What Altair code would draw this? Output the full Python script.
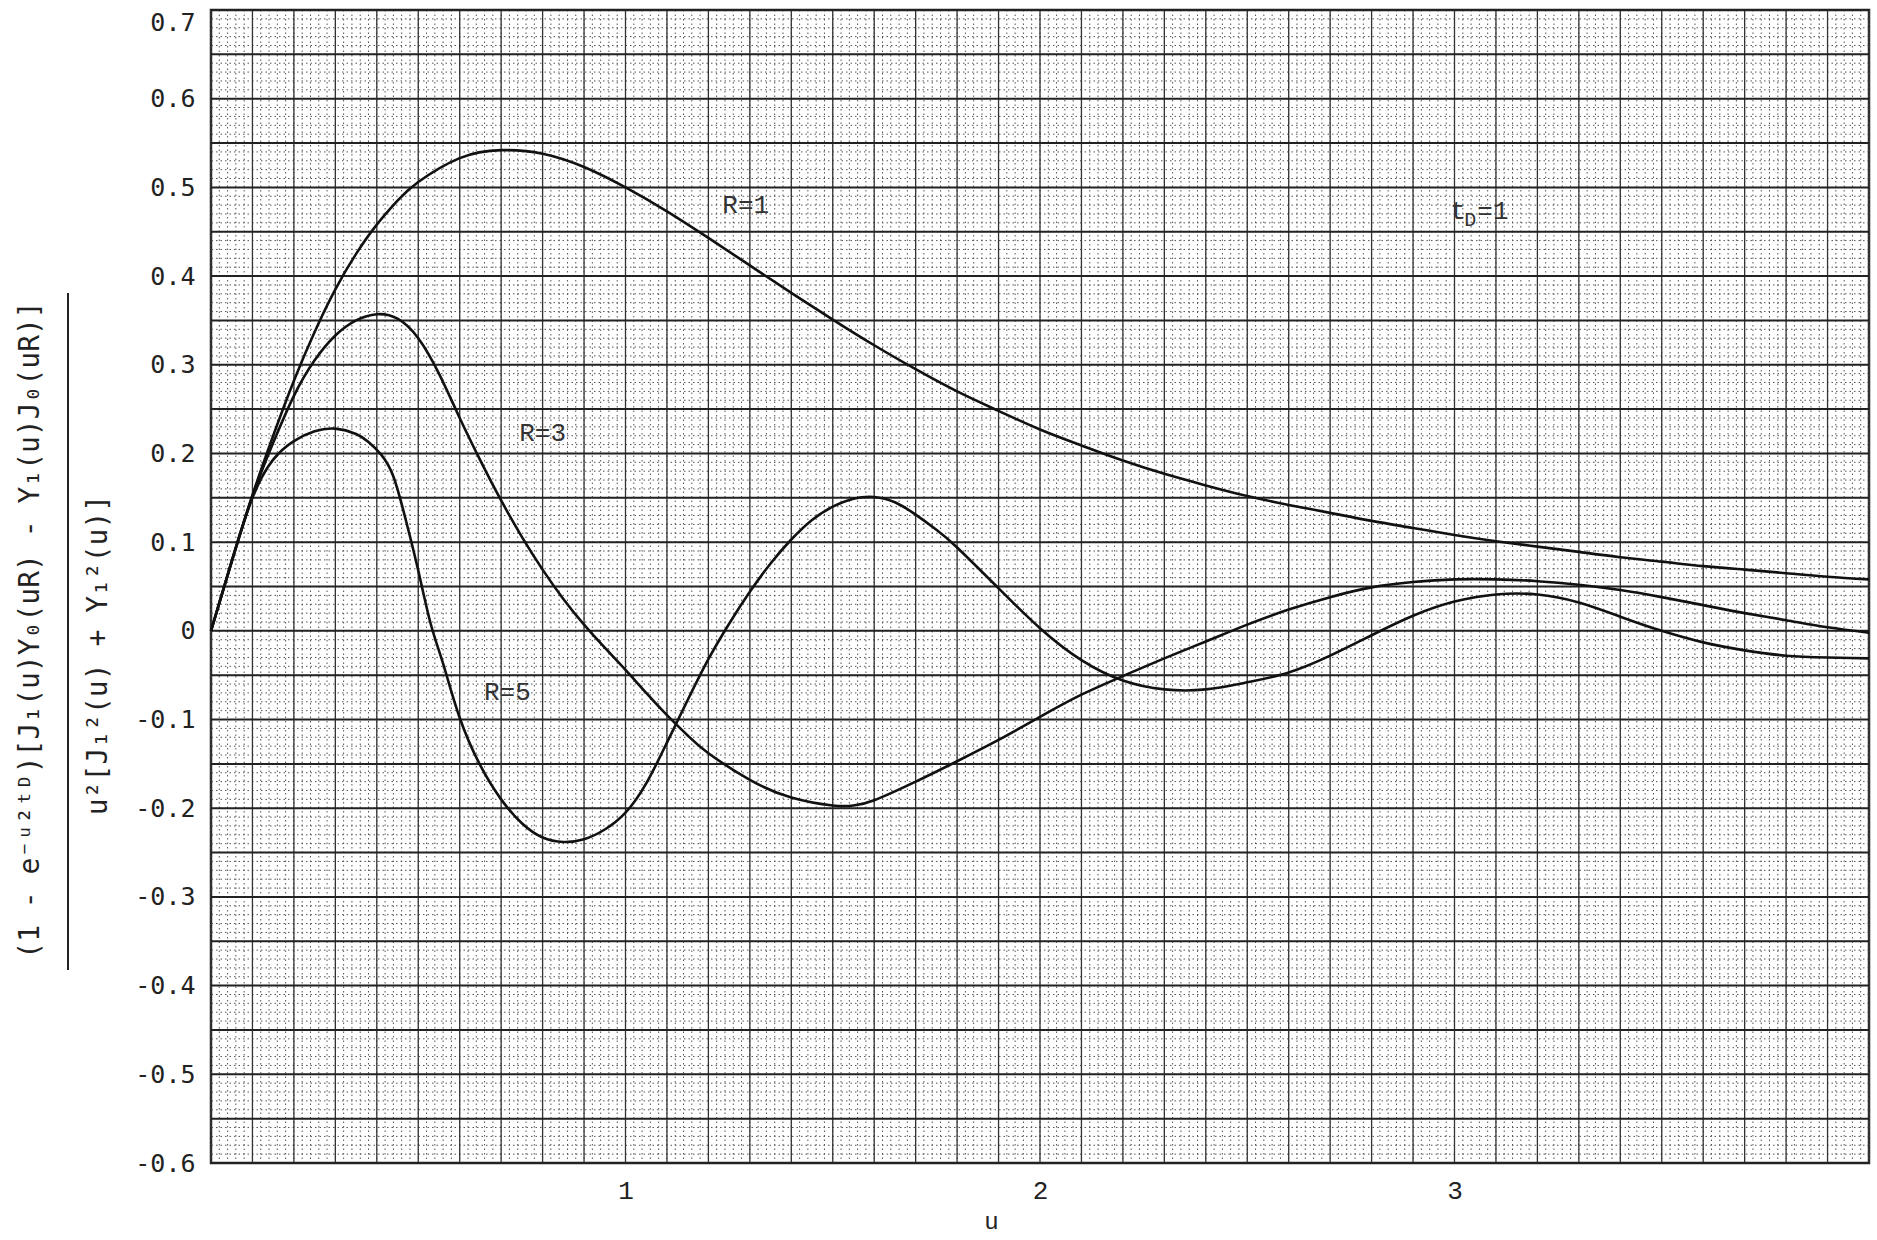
import altair as alt
import pandas as pd
import numpy as np

# ---------------- data ----------------
u_R1 = [0, 0.05, 0.1, 0.15, 0.2, 0.25, 0.3, 0.35, 0.4, 0.45, 0.5, 0.6, 0.7, 0.8, 0.9,
        1.0, 1.1, 1.2, 1.3, 1.4, 1.5, 1.6, 1.7, 1.8, 1.9, 2.0, 2.1, 2.2, 2.3, 2.4, 2.5,
        2.6, 2.7, 2.8, 2.9, 3.0, 3.1, 3.2, 3.3, 3.4, 3.5, 3.6, 3.7, 3.8, 3.9, 4.0]
v_R1 = [0, 0.079, 0.153, 0.220, 0.282, 0.337, 0.385, 0.425, 0.458, 0.485, 0.506, 0.533, 0.542, 0.538, 0.523,
        0.500, 0.473, 0.443, 0.412, 0.381, 0.351, 0.322, 0.295, 0.270, 0.248, 0.227, 0.209, 0.192, 0.177, 0.164, 0.152,
        0.142, 0.133, 0.124, 0.116, 0.108, 0.101, 0.095, 0.089, 0.083, 0.078, 0.073, 0.069, 0.065, 0.061, 0.058]

u_R3 = [0, 0.05, 0.1, 0.15, 0.2, 0.25, 0.3, 0.35, 0.4, 0.45, 0.5, 0.55, 0.6, 0.65, 0.7, 0.75, 0.8, 0.85,
        0.9, 0.95, 1.0, 1.05, 1.1, 1.15, 1.2, 1.3, 1.4, 1.5, 1.55, 1.6, 1.7, 1.8, 1.9, 2.0, 2.1, 2.2,
        2.3, 2.4, 2.5, 2.6, 2.7, 2.8, 2.9, 3.0, 3.1, 3.2, 3.3, 3.4, 3.5, 3.6, 3.7, 3.8, 3.9, 4.0]
v_R3 = [0, 0.078, 0.152, 0.212, 0.265, 0.305, 0.333, 0.350, 0.357, 0.352, 0.330, 0.290, 0.240, 0.192, 0.147, 0.106, 0.069, 0.036,
        0.007, -0.019, -0.044, -0.070, -0.095, -0.118, -0.138, -0.168, -0.188, -0.197, -0.197, -0.191, -0.170, -0.147, -0.123, -0.097, -0.072, -0.051,
        -0.031, -0.012, 0.007, 0.024, 0.038, 0.049, 0.055, 0.058, 0.058, 0.056, 0.052, 0.046, 0.038, 0.029, 0.020, 0.012, 0.004, -0.002]

u_R5 = [0, 0.05, 0.1, 0.15, 0.2, 0.25, 0.3, 0.35, 0.38, 0.41, 0.44, 0.47, 0.50, 0.53, 0.56, 0.6, 0.65, 0.7,
        0.75, 0.8, 0.85, 0.9, 0.95, 1.0, 1.05, 1.1, 1.15, 1.2, 1.25, 1.3, 1.35, 1.4, 1.45, 1.5, 1.55, 1.6,
        1.65, 1.7, 1.75, 1.8, 1.9, 2.0, 2.1, 2.2, 2.3, 2.4, 2.5, 2.6, 2.7, 2.8, 2.9, 3.0, 3.1, 3.2, 3.3,
        3.4, 3.5, 3.6, 3.7, 3.8, 3.9, 4.0]
v_R5 = [0, 0.078, 0.150, 0.193, 0.214, 0.225, 0.228, 0.222, 0.213, 0.199, 0.174, 0.125, 0.068, 0.008, -0.037, -0.098, -0.152, -0.190,
        -0.217, -0.233, -0.238, -0.235, -0.224, -0.205, -0.172, -0.126, -0.078, -0.032, 0.008, 0.044, 0.076, 0.103, 0.125, 0.140, 0.149, 0.151,
        0.145, 0.131, 0.114, 0.094, 0.048, 0.003, -0.033, -0.056, -0.066, -0.066, -0.058, -0.047, -0.028, -0.005, 0.017, 0.033, 0.041, 0.041, 0.032,
        0.016, 0.000, -0.013, -0.022, -0.028, -0.030, -0.031]

y_ticks = [0.7, 0.6, 0.5, 0.4, 0.3, 0.2, 0.1, 0.0, -0.1, -0.2, -0.3, -0.4, -0.5, -0.6]
x_ticks = [1, 2, 3]

label_text = ["R=1", "R=3", "R=5"]
label_u = [1.29, 0.80, 0.715]
label_v = [0.48, 0.223, -0.069]

td_u = [2.99]
td_v = [0.473]

numerator = "(1 - e\u207b\u1d58\u00b2\u1d57\u1d30)[J\u2081(u)Y\u2080(uR) - Y\u2081(u)J\u2080(uR)]"
denominator = "u\u00b2[J\u2081\u00b2(u) + Y\u2081\u00b2(u)]"

# ---------------- build tables ----------------
curves = pd.concat([
    pd.DataFrame({"u": u_R1, "v": v_R1, "R": "R=1"}),
    pd.DataFrame({"u": u_R3, "v": v_R3, "R": "R=3"}),
    pd.DataFrame({"u": u_R5, "v": v_R5, "R": "R=5"}),
])

X_DOM = [0, 4]
Y_DOM = [-0.6, 0.7]
xs = alt.Scale(domain=X_DOM, nice=False, zero=False)
ys = alt.Scale(domain=Y_DOM, nice=False, zero=False)

x_axis = alt.Axis(values=x_ticks, format="d", grid=False, ticks=False, domain=False,
                  labelFont="Liberation Mono", labelFontSize=26, labelColor="#222",
                  labelPadding=14, title="u", titleFont="Liberation Mono",
                  titleFontSize=24, titleFontWeight="normal", titleColor="#222",
                  titleX=780, titleY=58, titleBaseline="middle")
y_axis = alt.Axis(values=y_ticks, grid=False, ticks=False, domain=False,
                  labelExpr="datum.value == 0 ? '0' : (datum.value < 0 ? '-' : '') + format(abs(datum.value), '.1f')",
                  labelFont="DejaVu Sans Mono", labelFontSize=25, labelColor="#222",
                  labelBaseline={"condition": {"test": "datum.value > 0.65", "value": "top"}, "value": "middle"},
                  labelPadding=16, title=None)

X = lambda: alt.X("u:Q", scale=xs, axis=x_axis)
Y = lambda: alt.Y("v:Q", scale=ys, axis=y_axis)

minor_x = pd.DataFrame({"u": np.round(np.arange(0, 4.0001, 0.02), 3)})
minor_y = pd.DataFrame({"v": np.round(np.arange(-0.6, 0.7001, 0.01), 3)})
major_x = pd.DataFrame({"u": np.round(np.arange(0, 4.0001, 0.1), 3)})
major_y = pd.DataFrame({"v": np.round(np.arange(-0.6, 0.7001, 0.05), 3)})

g_minor_x = alt.Chart(minor_x).mark_rule(color="#555", strokeWidth=1, strokeDash=[1.5, 3]).encode(x=X())
g_minor_y = alt.Chart(minor_y).mark_rule(color="#555", strokeWidth=1, strokeDash=[1.5, 3]).encode(y=Y())
g_major_x = alt.Chart(major_x).mark_rule(color="#333", strokeWidth=1.3).encode(x=X())
g_major_y = alt.Chart(major_y).mark_rule(color="#222", strokeWidth=2).encode(y=Y())

lines = alt.Chart(curves).mark_line(color="#111", strokeWidth=2.6, interpolate="natural").encode(
    x=X(), y=Y(), detail="R:N")

labels_df = pd.DataFrame({"u": label_u, "v": label_v, "t": label_text})
curve_labels = alt.Chart(labels_df).mark_text(font="Liberation Mono", fontSize=26, color="#333").encode(
    x=X(), y=Y(), text="t:N")

td_df = pd.DataFrame({"u": td_u, "v": td_v})
td_t = alt.Chart(td_df).mark_text(font="Liberation Mono", fontSize=26, color="#333", align="left").encode(
    x=X(), y=Y(), text=alt.value("t"))
td_D = alt.Chart(td_df).mark_text(font="Liberation Mono", fontSize=20, color="#333", align="left", dx=14, dy=9).encode(
    x=X(), y=Y(), text=alt.value("D"))
td_eq = alt.Chart(td_df).mark_text(font="Liberation Mono", fontSize=26, color="#333", align="left", dx=27).encode(
    x=X(), y=Y(), text=alt.value("=1"))

one = pd.DataFrame({"k": [0]})
num_txt = alt.Chart(one).mark_text(font="DejaVu Sans Mono", fontSize=28, color="#222", angle=270,
                                   align="center", baseline="middle").encode(
    x=alt.value(-180), y=alt.value(620), text=alt.value(numerator))
den_txt = alt.Chart(one).mark_text(font="DejaVu Sans Mono", fontSize=28, color="#222", angle=270,
                                   align="center", baseline="middle").encode(
    x=alt.value(-112), y=alt.value(645), text=alt.value(denominator))
frac_bar = alt.Chart(one).mark_rule(color="#222", strokeWidth=2).encode(
    x=alt.value(-143), y=alt.value(283), y2=alt.value(960))

chart = alt.layer(
    g_minor_x, g_minor_y, g_major_x, g_major_y, lines, curve_labels, td_t, td_D, td_eq,
    num_txt, den_txt, frac_bar
).properties(
    width=1658, height=1153,
    padding={"left": 211, "top": 10, "right": 8, "bottom": 77},
    autosize=alt.AutoSizeParams(type="none"),
    background="white",
).configure_view(stroke="#222", strokeWidth=2.5)

chart.save("out.html", embed_options={"renderer": "svg", "actions": False})
